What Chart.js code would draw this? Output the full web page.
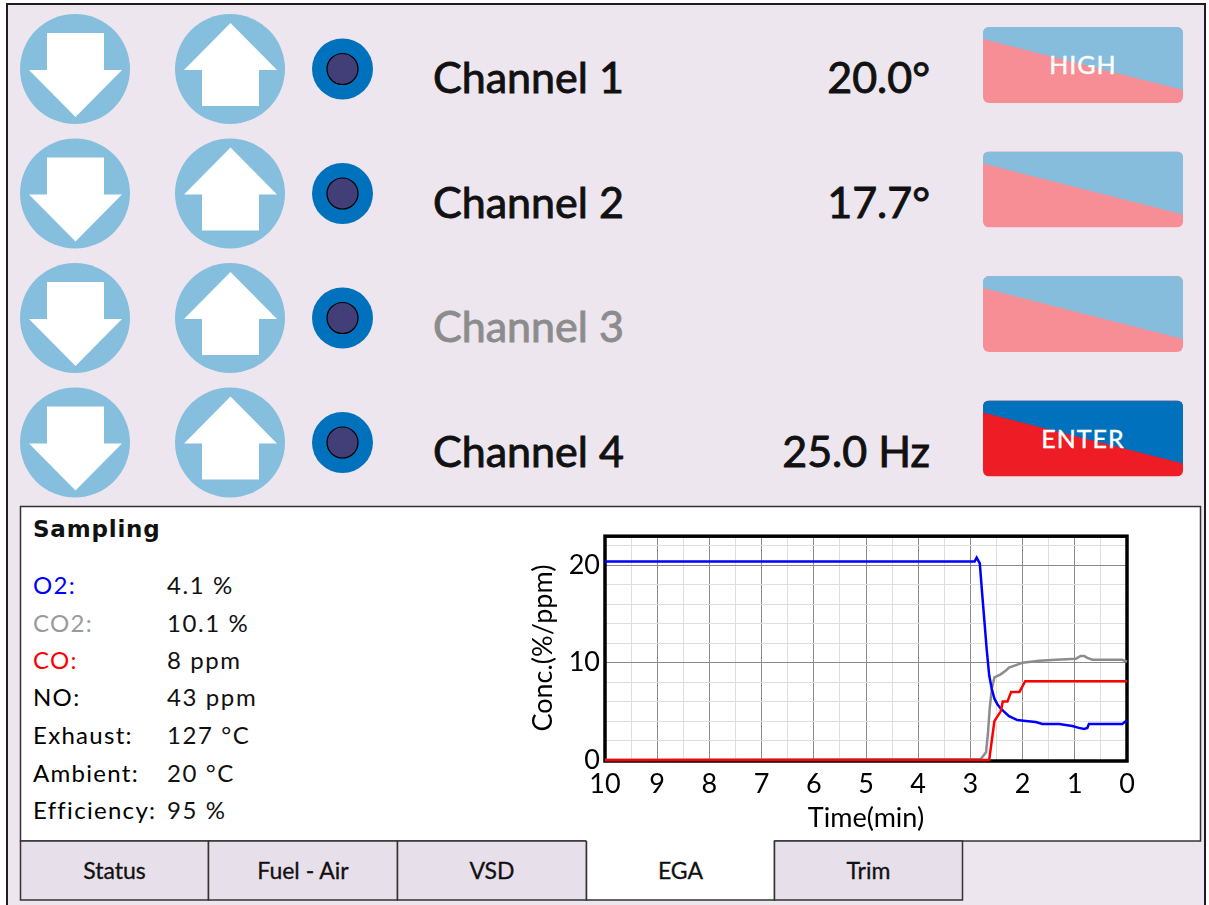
<!DOCTYPE html>
<html>
<head>
<meta charset="utf-8">
<title>EGA</title>
<script src="https://cdn.jsdelivr.net/npm/chart.js@4.4.1/dist/chart.umd.min.js"></script>
<style>
  html, body { margin: 0; padding: 0; background: #fff; }
  body { width: 1209px; height: 905px; position: relative; overflow: hidden; font-family: Lato, sans-serif; }
  #ui { position: absolute; left: 0; top: 0; }
  #chartBox { position: absolute; left: 520px; top: 515px; width: 630px; height: 325px; }
</style>
</head>
<body>
<svg id="ui" width="1209" height="905" xmlns="http://www.w3.org/2000/svg"></svg>
<div id="chartBox"><canvas id="chartCanvas" width="630" height="325"></canvas></div>
<script>
// Chart data (time in minutes before now, concentration)
const o2Time  = [10, 2.92, 2.88, 2.82, 2.77, 2.72, 2.69, 2.64, 2.59, 2.54, 2.48, 2.42, 2.34, 2.26, 2.10, 1.94, 1.75, 1.62, 1.30, 1.05, 0.92, 0.82, 0.76, 0.73, 0.41, 0.09, 0];
const o2Conc  = [20.4, 20.4, 20.8, 20.2, 16.8, 13.5, 11.5, 8.7, 7.3, 6.3, 5.7, 5.3, 4.9, 4.5, 4.1, 4.0, 3.9, 3.7, 3.7, 3.5, 3.3, 3.2, 3.3, 3.7, 3.7, 3.7, 4.1];
const co2Time = [10, 2.80, 2.77, 2.70, 2.66, 2.63, 2.59, 2.54, 2.42, 2.32, 2.26, 2.10, 2.00, 1.68, 1.36, 0.98, 0.89, 0.82, 0.76, 0.66, 0.09, 0];
const co2Conc = [0, 0.1, 0.3, 0.8, 3.0, 5.3, 7.3, 8.5, 8.8, 9.2, 9.5, 9.8, 10.0, 10.2, 10.3, 10.4, 10.7, 10.7, 10.5, 10.3, 10.3, 10.1];
const coTime  = [10, 2.64, 2.59, 2.54, 2.42, 2.38, 2.29, 2.22, 2.06, 1.95, 0];
const coConc  = [0, 0, 2.0, 4.0, 5.0, 6.0, 6.0, 7.0, 7.0, 8.1, 8.1];

// Axis ticks
const xTicks = [0, 0.5, 1, 1.5, 2, 2.5, 3, 3.5, 4, 4.5, 5, 5.5, 6, 6.5, 7, 7.5, 8, 8.5, 9, 9.5, 10];
const xLabels = [0, 1, 2, 3, 4, 5, 6, 7, 8, 9, 10];
const yTicks = [0, 2, 4, 6, 8, 10, 12, 14, 16, 18, 20, 22];
const yLabels = [0, 10, 20];

// Panel texts
const channelNames = ['Channel 1', 'Channel 2', 'Channel 3', 'Channel 4'];
const channelValues = ['20.0°', '17.7°', '', '25.0 Hz'];
const channelEnabled = [true, true, false, true];
const buttonLabels = ['HIGH', '', '', 'ENTER'];
const sampleLabels = ['O2:', 'CO2:', 'CO:', 'NO:', 'Exhaust:', 'Ambient:', 'Efficiency:'];
const sampleValues = ['4.1 %', '10.1 %', '8 ppm', '43 ppm', '127 °C', '20 °C', '95 %'];
const sampleColors = ['#0000ff', '#9a9a9a', '#ff0000', '#000', '#000', '#000', '#000'];
const tabNames = ['Status', 'Fuel - Air', 'VSD', 'EGA', 'Trim'];
const activeTab = 3;

const rowY = [69, 193.5, 318, 442.5];
const FONT = 'Lato, sans-serif';

function pts(cx, cy, list) {
    return list.map(p => (cx + p[0]) + ',' + (cy + p[1])).join(' ');
}

// Build the panel as svg
function buildUI() {
    let s = '';
    s += '<rect x="7" y="4" width="1198" height="930" fill="#EDE6EF" stroke="#1e1e1e" stroke-width="2"/>';

    const downArrow = [[-28,-36],[29,-36],[29,1],[47,1],[0.5,48],[-46,1],[-28,1]];
    const upArrow = [[0.5,-46],[47,1],[29,1],[29,37],[-28,37],[-28,1],[-46,1]];

    for (let i = 0; i < 4; i++) {
        const cy = rowY[i];
        s += `<circle cx="75" cy="${cy}" r="55" fill="#86BEDE"/>`;
        s += `<polygon points="${pts(75, cy, downArrow)}" fill="#fff"/>`;
        s += `<circle cx="230" cy="${cy}" r="55" fill="#86BEDE"/>`;
        s += `<polygon points="${pts(230, cy, upArrow)}" fill="#fff"/>`;
        s += `<circle cx="342.5" cy="${cy}" r="30.5" fill="#0071BC"/>`;
        s += `<circle cx="342.5" cy="${cy}" r="15.5" fill="#423F78" stroke="#000" stroke-width="1.2"/>`;

        const col = channelEnabled[i] ? '#111' : '#8c8c8c';
        s += `<text x="433" y="${cy + 24}" font-family="${FONT}" font-size="43" fill="${col}" stroke="${col}" stroke-width="0.9">${channelNames[i]}</text>`;
        if (channelValues[i]) {
            s += `<text x="930" y="${cy + 24}" text-anchor="end" font-family="${FONT}" font-size="43" fill="#111" stroke="#111" stroke-width="0.9">${channelValues[i]}</text>`;
        }

        // split button
        const bx = 983, by = cy - 42, bw = 200, bh = 76;
        const top = i === 3 ? '#0071BC' : '#86BDDD';
        const bot = i === 3 ? '#EE1C25' : '#F78E96';
        s += `<clipPath id="clip${i}"><rect x="${bx}" y="${by}" width="${bw}" height="${bh}" rx="6"/></clipPath>`;
        s += `<g clip-path="url(#clip${i})">`;
        s += `<rect x="${bx}" y="${by}" width="${bw}" height="${bh}" fill="${bot}"/>`;
        s += `<polygon points="${bx},${by} ${bx + bw},${by} ${bx + bw},${by + 63} ${bx},${by + 12}" fill="${top}"/>`;
        s += '</g>';
        if (buttonLabels[i]) {
            s += `<text x="1083" y="${cy + 5}" text-anchor="middle" font-family="${FONT}" font-size="25" letter-spacing="1" fill="#fff" stroke="#fff" stroke-width="0.4">${buttonLabels[i]}</text>`;
        }
    }

    // bottom panel
    s += '<rect x="20.5" y="506.5" width="1180" height="334.5" fill="#fff" stroke="#333" stroke-width="1.5"/>';
    s += `<text x="33" y="537" font-family="DejaVu Sans, sans-serif" font-size="23" font-weight="700" letter-spacing="0.8" fill="#111">Sampling</text>`;
    const baseY = [594, 631.5, 668.5, 706, 744, 781.5, 818.5];
    for (let i = 0; i < sampleLabels.length; i++) {
        s += `<text x="33" y="${baseY[i]}" font-family="${FONT}" font-size="24" letter-spacing="1.3" fill="${sampleColors[i]}">${sampleLabels[i]}</text>`;
        s += `<text x="167" y="${baseY[i]}" font-family="${FONT}" font-size="24" letter-spacing="1.6" fill="#111">${sampleValues[i]}</text>`;
    }

    // tabs
    const tabX = [20.5, 208.5, 397.5, 586.5, 774.5, 962.5];
    for (let i = 0; i < tabNames.length; i++) {
        const x0 = tabX[i], x1 = tabX[i + 1];
        if (i === activeTab) {
            s += `<rect x="${x0}" y="840" width="${x1 - x0}" height="60" fill="#fff"/>`;
            s += `<path d="M${x0},841 V900 H${x1} V841" fill="none" stroke="#333" stroke-width="1.5"/>`;
        } else {
            s += `<rect x="${x0}" y="841" width="${x1 - x0}" height="59" fill="#E7DFE9" stroke="#333" stroke-width="1.5"/>`;
        }
        s += `<text x="${(x0 + x1) / 2}" y="879" text-anchor="middle" font-family="${FONT}" font-size="23" fill="#111" stroke="#111" stroke-width="0.3">${tabNames[i]}</text>`;
    }
    document.getElementById('ui').innerHTML = s;
}
buildUI();

// Plot frame drawn under the lines
const framePlugin = {
    id: 'frame',
    beforeDatasetsDraw(chart) {
        const a = chart.chartArea, ctx = chart.ctx;
        ctx.save();
        ctx.strokeStyle = '#000';
        ctx.lineWidth = 3.5;
        ctx.strokeRect(a.left, a.top, a.right - a.left, a.bottom - a.top + 1);
        ctx.restore();
    }
};

function series(times, vals) {
    return times.map((t, i) => ({ x: t, y: vals[i] }));
}

const tickFont = { family: 'Lato', size: 27 };
const ctx = document.getElementById('chartCanvas').getContext('2d');
new Chart(ctx, {
    type: 'line',
    data: {
        datasets: [
            { label: 'CO', data: series(coTime, coConc), borderColor: '#ff0000', borderWidth: 2.5, pointRadius: 0, tension: 0, clip: 6 },
            { label: 'O2', data: series(o2Time, o2Conc), borderColor: '#0000ff', borderWidth: 2.5, pointRadius: 0, tension: 0, clip: 6 },
            { label: 'CO2', data: series(co2Time, co2Conc), borderColor: '#8c8c8c', borderWidth: 2.5, pointRadius: 0, tension: 0, clip: 6 }
        ]
    },
    options: {
        responsive: false,
        animation: false,
        layout: { padding: { top: 15, right: 23, left: 0, bottom: 0 } },
        plugins: { legend: { display: false }, tooltip: { enabled: false } },
        scales: {
            x: {
                type: 'linear', reverse: true, min: 0, max: 10,
                afterBuildTicks: s => { s.ticks = xTicks.map(v => ({ value: v })); },
                afterFit: s => { s.height = 80; },
                border: { display: false },
                grid: {
                    drawTicks: false,
                    color: c => xLabels.includes(c.tick.value) ? '#8a8a8a' : '#dedede'
                },
                ticks: {
                    autoSkip: false, maxRotation: 0, padding: 8, color: '#000', font: tickFont,
                    callback: v => xLabels.includes(v) ? String(v) : ''
                },
                title: { display: true, text: 'Time(min)', color: '#000', font: tickFont, padding: { top: 0, bottom: 6 } }
            },
            y: {
                min: 0, max: 23,
                afterBuildTicks: s => { s.ticks = yTicks.map(v => ({ value: v })); },
                afterFit: s => { s.width = 85; },
                border: { display: false },
                grid: {
                    drawTicks: false,
                    color: c => yLabels.includes(c.tick.value) ? '#8a8a8a' : '#dedede'
                },
                ticks: {
                    autoSkip: false, padding: 5, color: '#000', font: tickFont,
                    callback: v => yLabels.includes(v) ? String(v) : ''
                },
                title: { display: true, text: 'Conc.(%/ppm)', color: '#000', font: tickFont, padding: { top: 7, bottom: 0 } }
            }
        }
    },
    plugins: [framePlugin]
});
</script>
</body>
</html>
